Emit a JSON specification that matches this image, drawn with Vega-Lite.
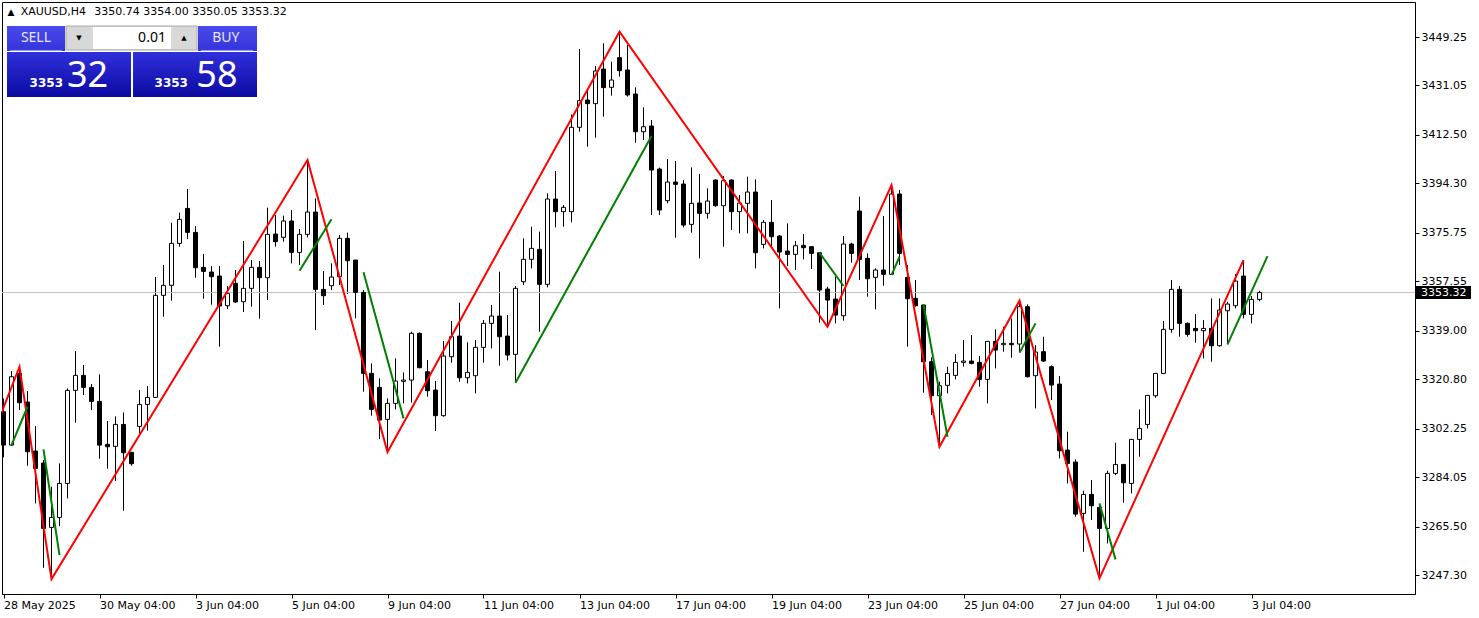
{
"$schema": "https://vega.github.io/schema/vega-lite/v6.json",
"width": 1413, "height": 592,
"autosize": {"type": "none"},
"padding": {"left": 2, "top": 2, "right": 64, "bottom": 24},
"background": "white",
"config": {"view": {"stroke": "black", "strokeWidth": 1}},
"resolve": {"axis": {"x": "independent", "y": "independent"}},
"datasets": {
"candles": [
{"i":0,"o":3308.59,"h":3313.59,"l":3291.44,"c":3296.07},
{"i":1,"o":3296.07,"h":3323.85,"l":3295.82,"c":3321.73},
{"i":2,"o":3322.98,"h":3325.48,"l":3309.21,"c":3311.97},
{"i":3,"o":3312.22,"h":3316.35,"l":3288.31,"c":3293.57},
{"i":4,"o":3293.82,"h":3303.21,"l":3274.17,"c":3287.31},
{"i":5,"o":3289.32,"h":3290.44,"l":3250.02,"c":3264.79},
{"i":6,"o":3265.16,"h":3280.43,"l":3245.77,"c":3268.92},
{"i":7,"o":3268.92,"h":3289.19,"l":3265.66,"c":3281.68},
{"i":8,"o":3281.68,"h":3317.35,"l":3276.05,"c":3316.60},
{"i":9,"o":3316.60,"h":3331.36,"l":3304.46,"c":3322.23},
{"i":10,"o":3322.23,"h":3326.11,"l":3314.84,"c":3317.72},
{"i":11,"o":3317.72,"h":3318.97,"l":3309.21,"c":3312.47},
{"i":12,"o":3312.47,"h":3322.60,"l":3290.94,"c":3296.07},
{"i":13,"o":3296.32,"h":3305.08,"l":3287.19,"c":3295.45},
{"i":14,"o":3295.57,"h":3306.84,"l":3282.56,"c":3303.83},
{"i":15,"o":3303.83,"h":3308.34,"l":3271.42,"c":3293.19},
{"i":16,"o":3293.32,"h":3293.57,"l":3288.31,"c":3289.07},
{"i":17,"o":3303.08,"h":3316.72,"l":3300.45,"c":3311.34},
{"i":18,"o":3311.34,"h":3318.22,"l":3301.45,"c":3313.97},
{"i":19,"o":3313.97,"h":3359.14,"l":3313.84,"c":3352.26},
{"i":20,"o":3352.26,"h":3363.65,"l":3344.25,"c":3356.02},
{"i":21,"o":3356.02,"h":3379.54,"l":3350.26,"c":3371.78},
{"i":22,"o":3371.78,"h":3383.30,"l":3370.53,"c":3380.79},
{"i":23,"o":3384.92,"h":3392.18,"l":3373.41,"c":3375.91},
{"i":24,"o":3375.91,"h":3378.29,"l":3358.89,"c":3362.65},
{"i":25,"o":3362.77,"h":3367.78,"l":3351.01,"c":3361.27},
{"i":26,"o":3361.02,"h":3363.27,"l":3348.76,"c":3359.27},
{"i":27,"o":3359.53,"h":3363.28,"l":3333.00,"c":3348.26},
{"i":28,"o":3348.39,"h":3355.77,"l":3347.14,"c":3353.02},
{"i":29,"o":3356.77,"h":3361.78,"l":3349.52,"c":3349.77},
{"i":30,"o":3349.89,"h":3372.67,"l":3346.01,"c":3354.90},
{"i":31,"o":3354.90,"h":3365.53,"l":3348.01,"c":3362.78},
{"i":32,"o":3362.78,"h":3365.16,"l":3343.51,"c":3358.90},
{"i":33,"o":3358.90,"h":3385.18,"l":3350.52,"c":3375.17},
{"i":34,"o":3375.29,"h":3382.43,"l":3370.54,"c":3372.42},
{"i":35,"o":3374.04,"h":3382.18,"l":3372.42,"c":3380.18},
{"i":36,"o":3380.18,"h":3384.30,"l":3364.28,"c":3368.41},
{"i":37,"o":3368.41,"h":3377.17,"l":3363.66,"c":3375.17},
{"i":38,"o":3375.17,"h":3403.07,"l":3374.04,"c":3383.55},
{"i":39,"o":3383.55,"h":3388.68,"l":3339.25,"c":3354.52},
{"i":40,"o":3354.52,"h":3361.40,"l":3348.64,"c":3352.14},
{"i":41,"o":3355.90,"h":3364.28,"l":3354.27,"c":3359.15},
{"i":42,"o":3359.28,"h":3374.92,"l":3356.15,"c":3373.67},
{"i":43,"o":3373.67,"h":3375.80,"l":3352.77,"c":3365.28},
{"i":44,"o":3365.53,"h":3365.53,"l":3343.63,"c":3353.39},
{"i":45,"o":3353.39,"h":3354.27,"l":3316.10,"c":3322.99},
{"i":46,"o":3322.99,"h":3326.74,"l":3307.09,"c":3309.47},
{"i":47,"o":3317.73,"h":3321.11,"l":3298.33,"c":3305.47},
{"i":48,"o":3305.72,"h":3313.60,"l":3293.45,"c":3311.72},
{"i":49,"o":3311.72,"h":3328.62,"l":3309.47,"c":3320.11},
{"i":50,"o":3319.98,"h":3323.36,"l":3311.72,"c":3320.48},
{"i":51,"o":3320.48,"h":3338.60,"l":3311.97,"c":3338.00},
{"i":52,"o":3338.01,"h":3338.38,"l":3324.87,"c":3325.12},
{"i":53,"o":3323.61,"h":3327.99,"l":3314.23,"c":3316.48},
{"i":54,"o":3316.73,"h":3320.11,"l":3301.34,"c":3307.10},
{"i":55,"o":3307.10,"h":3335.13,"l":3306.72,"c":3329.50},
{"i":56,"o":3329.25,"h":3342.64,"l":3326.99,"c":3336.75},
{"i":57,"o":3337.00,"h":3349.52,"l":3319.86,"c":3321.36},
{"i":58,"o":3321.36,"h":3334.63,"l":3319.23,"c":3323.36},
{"i":59,"o":3322.11,"h":3335.50,"l":3315.48,"c":3332.75},
{"i":60,"o":3332.75,"h":3343.01,"l":3326.99,"c":3341.76},
{"i":61,"o":3341.76,"h":3348.64,"l":3332.37,"c":3344.51},
{"i":62,"o":3344.51,"h":3361.16,"l":3325.87,"c":3336.75},
{"i":63,"o":3337.00,"h":3344.89,"l":3327.87,"c":3329.87},
{"i":64,"o":3330.12,"h":3355.78,"l":3319.48,"c":3354.90},
{"i":65,"o":3357.40,"h":3373.67,"l":3356.15,"c":3365.79},
{"i":66,"o":3365.79,"h":3378.05,"l":3362.41,"c":3369.92},
{"i":67,"o":3369.54,"h":3376.17,"l":3338.63,"c":3356.40},
{"i":68,"o":3356.40,"h":3390.56,"l":3355.27,"c":3388.44},
{"i":69,"o":3388.44,"h":3398.95,"l":3377.80,"c":3383.68},
{"i":70,"o":3383.68,"h":3386.18,"l":3378.05,"c":3385.31},
{"i":71,"o":3383.68,"h":3420.22,"l":3379.68,"c":3415.34},
{"i":72,"o":3415.34,"h":3444.75,"l":3413.72,"c":3425.35},
{"i":73,"o":3425.60,"h":3429.11,"l":3408.08,"c":3424.23},
{"i":74,"o":3424.23,"h":3438.37,"l":3411.46,"c":3436.49},
{"i":75,"o":3437.24,"h":3446.88,"l":3419.35,"c":3430.23},
{"i":76,"o":3430.36,"h":3439.99,"l":3427.23,"c":3433.11},
{"i":77,"o":3441.50,"h":3451.24,"l":3434.36,"c":3436.62},
{"i":78,"o":3436.87,"h":3446.25,"l":3426.86,"c":3427.48},
{"i":79,"o":3427.85,"h":3430.37,"l":3409.57,"c":3413.70},
{"i":80,"o":3413.70,"h":3422.86,"l":3410.58,"c":3415.57},
{"i":81,"o":3415.84,"h":3418.09,"l":3382.43,"c":3399.32},
{"i":82,"o":3399.69,"h":3400.19,"l":3382.43,"c":3384.30},
{"i":83,"o":3387.81,"h":3403.45,"l":3386.80,"c":3394.81},
{"i":84,"o":3394.81,"h":3402.70,"l":3373.92,"c":3393.94},
{"i":85,"o":3394.06,"h":3395.56,"l":3377.79,"c":3378.67},
{"i":86,"o":3378.92,"h":3400.32,"l":3375.79,"c":3386.80},
{"i":87,"o":3386.93,"h":3397.82,"l":3366.16,"c":3383.05},
{"i":88,"o":3383.05,"h":3392.44,"l":3381.05,"c":3387.68},
{"i":89,"o":3395.56,"h":3395.82,"l":3385.55,"c":3385.93},
{"i":90,"o":3385.93,"h":3397.07,"l":3370.54,"c":3395.31},
{"i":91,"o":3395.56,"h":3395.82,"l":3376.79,"c":3383.68},
{"i":92,"o":3383.68,"h":3389.93,"l":3375.54,"c":3386.93},
{"i":93,"o":3386.80,"h":3396.82,"l":3375.54,"c":3391.06},
{"i":94,"o":3391.06,"h":3395.82,"l":3362.40,"c":3368.28},
{"i":95,"o":3371.41,"h":3380.55,"l":3369.91,"c":3379.67},
{"i":96,"o":3379.67,"h":3388.06,"l":3370.79,"c":3374.29},
{"i":97,"o":3374.54,"h":3374.92,"l":3347.39,"c":3368.53},
{"i":98,"o":3368.91,"h":3379.30,"l":3363.28,"c":3367.66},
{"i":99,"o":3367.66,"h":3372.66,"l":3361.78,"c":3370.91},
{"i":100,"o":3371.04,"h":3375.29,"l":3365.78,"c":3370.16},
{"i":101,"o":3370.54,"h":3370.79,"l":3362.15,"c":3368.03},
{"i":102,"o":3368.28,"h":3368.28,"l":3342.00,"c":3354.27},
{"i":103,"o":3354.64,"h":3355.52,"l":3340.49,"c":3350.51},
{"i":104,"o":3350.89,"h":3359.27,"l":3341.76,"c":3344.88},
{"i":105,"o":3344.63,"h":3374.54,"l":3342.76,"c":3371.54},
{"i":106,"o":3371.54,"h":3372.04,"l":3364.53,"c":3368.03},
{"i":107,"o":3383.93,"h":3389.31,"l":3358.02,"c":3365.78},
{"i":108,"o":3366.16,"h":3368.03,"l":3351.77,"c":3358.52},
{"i":109,"o":3359.02,"h":3362.40,"l":3347.01,"c":3361.78},
{"i":110,"o":3361.78,"h":3382.05,"l":3355.90,"c":3360.15},
{"i":111,"o":3360.15,"h":3393.69,"l":3359.90,"c":3390.31},
{"i":112,"o":3390.31,"h":3391.81,"l":3363.66,"c":3368.03},
{"i":113,"o":3359.02,"h":3363.66,"l":3333.00,"c":3351.02},
{"i":114,"o":3351.14,"h":3358.02,"l":3348.01,"c":3348.39},
{"i":115,"o":3348.64,"h":3348.89,"l":3315.73,"c":3327.36},
{"i":116,"o":3327.36,"h":3328.99,"l":3307.34,"c":3314.60},
{"i":117,"o":3314.60,"h":3319.86,"l":3295.45,"c":3318.35},
{"i":118,"o":3318.48,"h":3325.49,"l":3315.48,"c":3322.98},
{"i":119,"o":3322.23,"h":3330.24,"l":3320.73,"c":3327.11},
{"i":120,"o":3327.11,"h":3335.50,"l":3325.49,"c":3327.61},
{"i":121,"o":3327.61,"h":3337.38,"l":3326.36,"c":3326.74},
{"i":122,"o":3327.11,"h":3329.49,"l":3317.98,"c":3320.73},
{"i":123,"o":3320.73,"h":3335.00,"l":3311.72,"c":3335.00},
{"i":124,"o":3335.00,"h":3339.50,"l":3324.86,"c":3331.74},
{"i":125,"o":3333.75,"h":3340.50,"l":3331.12,"c":3334.25},
{"i":126,"o":3334.25,"h":3343.63,"l":3328.87,"c":3333.75},
{"i":127,"o":3334.00,"h":3350.27,"l":3331.12,"c":3348.01},
{"i":128,"o":3348.01,"h":3348.89,"l":3321.48,"c":3321.73},
{"i":129,"o":3322.11,"h":3333.62,"l":3309.85,"c":3330.99},
{"i":130,"o":3331.12,"h":3336.75,"l":3327.36,"c":3327.61},
{"i":131,"o":3325.48,"h":3325.98,"l":3312.97,"c":3318.60},
{"i":132,"o":3318.97,"h":3321.98,"l":3291.07,"c":3293.95},
{"i":133,"o":3294.20,"h":3301.08,"l":3281.68,"c":3289.19},
{"i":134,"o":3289.69,"h":3290.69,"l":3269.17,"c":3270.17},
{"i":135,"o":3270.42,"h":3278.93,"l":3256.03,"c":3277.55},
{"i":136,"o":3277.55,"h":3282.93,"l":3267.92,"c":3273.30},
{"i":137,"o":3272.67,"h":3273.55,"l":3246.03,"c":3264.79},
{"i":138,"o":3264.79,"h":3286.44,"l":3259.16,"c":3285.44},
{"i":139,"o":3285.44,"h":3296.95,"l":3284.81,"c":3288.81},
{"i":140,"o":3288.81,"h":3288.81,"l":3274.42,"c":3281.93},
{"i":141,"o":3281.68,"h":3298.20,"l":3277.93,"c":3298.20},
{"i":142,"o":3298.20,"h":3309.46,"l":3291.69,"c":3302.33},
{"i":143,"o":3303.83,"h":3314.72,"l":3302.33,"c":3314.72},
{"i":144,"o":3314.59,"h":3322.98,"l":3313.84,"c":3322.98},
{"i":145,"o":3322.98,"h":3342.63,"l":3322.73,"c":3339.50},
{"i":146,"o":3339.50,"h":3358.02,"l":3338.25,"c":3354.51},
{"i":147,"o":3354.51,"h":3355.76,"l":3336.74,"c":3341.75},
{"i":148,"o":3341.75,"h":3342.12,"l":3336.74,"c":3337.62},
{"i":149,"o":3339.87,"h":3345.25,"l":3334.49,"c":3339.00},
{"i":150,"o":3339.00,"h":3343.00,"l":3328.61,"c":3339.87},
{"i":151,"o":3339.87,"h":3351.13,"l":3327.36,"c":3333.36},
{"i":152,"o":3333.36,"h":3351.13,"l":3332.99,"c":3346.75},
{"i":153,"o":3346.50,"h":3349.88,"l":3333.87,"c":3349.01},
{"i":154,"o":3348.38,"h":3360.27,"l":3347.38,"c":3357.64},
{"i":155,"o":3359.52,"h":3365.53,"l":3343.63,"c":3345.13},
{"i":156,"o":3345.13,"h":3352.01,"l":3341.75,"c":3350.76},
{"i":157,"o":3350.74,"h":3354.00,"l":3350.05,"c":3353.32}
],
"zigzag": [
{"i":-3,"p":3287.0},{"i":2,"p":3325.48},{"i":6,"p":3245.77},{"i":38,"p":3403.07},{"i":48,"p":3293.45},{"i":77,"p":3451.24},{"i":103,"p":3340.49},{"i":111,"p":3393.69},{"i":117,"p":3295.45},{"i":127,"p":3350.27},{"i":137,"p":3246.03},{"i":155,"p":3365.53}
],
"green": [
{"s":1,"i":1,"p":3296.07},{"s":1,"i":3,"p":3310.46},
{"s":2,"i":5,"p":3294.46},{"s":2,"i":7,"p":3254.78},
{"s":3,"i":37,"p":3361.51},{"s":3,"i":41,"p":3380.81},
{"s":4,"i":45,"p":3360.91},{"s":4,"i":50,"p":3306.10},
{"s":5,"i":64,"p":3319.47},{"s":5,"i":81,"p":3412.08},
{"s":6,"i":102,"p":3368.27},{"s":6,"i":105,"p":3355.77},
{"s":7,"i":111,"p":3359.90},{"s":7,"i":112,"p":3366.77},
{"s":8,"i":115,"p":3348.90},{"s":8,"i":118,"p":3299.19},
{"s":9,"i":127,"p":3330.73},{"s":9,"i":129,"p":3341.76},
{"s":10,"i":137,"p":3274.19},{"s":10,"i":139,"p":3253.16},
{"s":11,"i":153,"p":3333.88},{"s":11,"i":158,"p":3367.03}
]
},
"layer": [
{"data": {"name": "candles"},
 "mark": {"type": "rule", "color": "black", "strokeWidth": 1},
 "encoding": {
  "x": {"field": "i", "type": "quantitative", "scale": {"domain": [-0.1875, 176.4375], "nice": false, "zero": false, "padding": 0},
   "axis": {"values": [0,12,24,36,48,60,72,84,96,108,120,132,144,156],
    "labelExpr": "['28 May 2025','30 May 04:00','3 Jun 04:00','5 Jun 04:00','9 Jun 04:00','11 Jun 04:00','13 Jun 04:00','17 Jun 04:00','19 Jun 04:00','23 Jun 04:00','25 Jun 04:00','27 Jun 04:00','1 Jul 04:00','3 Jul 04:00'][round(datum.value/12)]",
    "title": null, "grid": false, "labelAlign": "left", "labelFont": "DejaVu Sans", "labelFontSize": 11, "labelColor": "black",
    "tickColor": "black", "tickSize": 4, "domainColor": "black", "labelPadding": 1, "labelFlush": false, "labelOverlap": false, "labelBound": false, "labelDx": -1}},
  "y": {"field": "l", "type": "quantitative", "scale": {"domain": [3240.17, 3462.39], "nice": false, "zero": false},
   "axis": {"orient": "right", "values": [3247.30,3265.50,3284.05,3302.25,3320.80,3339.00,3357.55,3375.75,3394.30,3412.50,3431.05,3449.25],
    "format": ".2f", "title": null, "grid": false, "labelFont": "DejaVu Sans", "labelFontSize": 11, "labelColor": "black",
    "tickColor": "black", "tickSize": 4, "domainColor": "black", "labelPadding": 2, "labelOverlap": false, "labelFlush": false, "labelBound": false}},
  "y2": {"field": "h"}
 }},
{"data": {"values": [{}]},
 "mark": {"type": "rule", "color": "#c0c0c0", "strokeWidth": 1},
 "encoding": {"y": {"datum": 3353.32, "type": "quantitative", "scale": {"domain": [3240.17, 3462.39], "nice": false, "zero": false}, "axis": null}}},
{"data": {"name": "candles"},
 "mark": {"type": "bar", "width": 4, "stroke": "black", "strokeWidth": 1},
 "encoding": {
  "x": {"field": "i", "type": "quantitative", "scale": {"domain": [-0.1875, 176.4375], "nice": false, "zero": false, "padding": 0}, "axis": null},
  "y": {"field": "o", "type": "quantitative", "scale": {"domain": [3240.17, 3462.39], "nice": false, "zero": false}, "axis": null},
  "y2": {"field": "c"},
  "fill": {"condition": {"test": "datum.c > datum.o", "value": "white"}, "value": "black"}
 }},
{"data": {"name": "zigzag"},
 "mark": {"type": "line", "color": "#ff0000", "strokeWidth": 2, "clip": true},
 "encoding": {
  "x": {"field": "i", "type": "quantitative", "scale": {"domain": [-0.1875, 176.4375], "nice": false, "zero": false, "padding": 0}, "axis": null},
  "y": {"field": "p", "type": "quantitative", "scale": {"domain": [3240.17, 3462.39], "nice": false, "zero": false}, "axis": null}
 }},
{"data": {"name": "green"},
 "mark": {"type": "line", "color": "#008000", "strokeWidth": 2, "clip": true},
 "encoding": {
  "x": {"field": "i", "type": "quantitative", "scale": {"domain": [-0.1875, 176.4375], "nice": false, "zero": false, "padding": 0}, "axis": null},
  "y": {"field": "p", "type": "quantitative", "scale": {"domain": [3240.17, 3462.39], "nice": false, "zero": false}, "axis": null},
  "detail": {"field": "s", "type": "nominal"}
 }},
{"data": {"values": [{}]},
 "mark": {"type": "rect", "fill": "black"},
 "encoding": {
  "x": {"datum": 176.56, "type": "quantitative", "scale": {"domain": [-0.1875, 176.4375], "nice": false, "zero": false, "padding": 0}, "axis": null},
  "x2": {"datum": 183.44},
  "y": {"datum": 3355.76, "type": "quantitative", "scale": {"domain": [3240.17, 3462.39], "nice": false, "zero": false}, "axis": null},
  "y2": {"datum": 3350.88}
 }},
{"data": {"values": [{}]},
 "mark": {"type": "text", "text": "3353.32", "color": "white", "font": "DejaVu Sans", "fontSize": 11, "align": "left", "baseline": "middle"},
 "encoding": {
  "x": {"datum": 177.19, "type": "quantitative", "scale": {"domain": [-0.1875, 176.4375], "nice": false, "zero": false, "padding": 0}, "axis": null},
  "y": {"datum": 3353.32, "type": "quantitative", "scale": {"domain": [3240.17, 3462.39], "nice": false, "zero": false}, "axis": null}
 }},
{"data": {"values": [{}]},
 "mark": {"type": "text", "text": "▲", "color": "black", "font": "DejaVu Sans", "fontSize": 9, "align": "center", "baseline": "middle"},
 "encoding": {
  "x": {"datum": 0.94, "type": "quantitative", "scale": {"domain": [-0.1875, 176.4375], "nice": false, "zero": false, "padding": 0}, "axis": null},
  "y": {"datum": 3458.64, "type": "quantitative", "scale": {"domain": [3240.17, 3462.39], "nice": false, "zero": false}, "axis": null}
 }},
{"data": {"values": [{}]},
 "mark": {"type": "text", "text": "XAUUSD,H4", "color": "black", "font": "DejaVu Sans", "fontSize": 11, "align": "left", "baseline": "middle"},
 "encoding": {
  "x": {"datum": 2.15, "type": "quantitative", "scale": {"domain": [-0.1875, 176.4375], "nice": false, "zero": false, "padding": 0}, "axis": null},
  "y": {"datum": 3458.45, "type": "quantitative", "scale": {"domain": [3240.17, 3462.39], "nice": false, "zero": false}, "axis": null}
 }},
{"data": {"values": [{}]},
 "mark": {"type": "text", "text": "3350.74 3354.00 3350.05 3353.32", "color": "black", "font": "DejaVu Sans", "fontSize": 11, "align": "left", "baseline": "middle"},
 "encoding": {
  "x": {"datum": 11.35, "type": "quantitative", "scale": {"domain": [-0.1875, 176.4375], "nice": false, "zero": false, "padding": 0}, "axis": null},
  "y": {"datum": 3458.45, "type": "quantitative", "scale": {"domain": [3240.17, 3462.39], "nice": false, "zero": false}, "axis": null}
 }},
{"data": {"values": [{}]},
 "mark": {"type": "rect", "fill": {"gradient": "linear", "x1": 0, "y1": 0, "x2": 0, "y2": 1, "stops": [{"offset": 0, "color": "#4a4aea"}, {"offset": 1, "color": "#3434dc"}]}},
 "encoding": {
  "x": {"datum": 0.44, "type": "quantitative", "scale": {"domain": [-0.1875, 176.4375], "nice": false, "zero": false, "padding": 0}, "axis": null},
  "x2": {"datum": 7.69},
  "y": {"datum": 3453.38, "type": "quantitative", "scale": {"domain": [3240.17, 3462.39], "nice": false, "zero": false}, "axis": null},
  "y2": {"datum": 3444.0}
 }},
{"data": {"values": [{}]},
 "mark": {"type": "rect", "fill": {"gradient": "linear", "x1": 0, "y1": 0, "x2": 0, "y2": 1, "stops": [{"offset": 0, "color": "#4a4aea"}, {"offset": 1, "color": "#3434dc"}]}},
 "encoding": {
  "x": {"datum": 24.31, "type": "quantitative", "scale": {"domain": [-0.1875, 176.4375], "nice": false, "zero": false, "padding": 0}, "axis": null},
  "x2": {"datum": 31.69},
  "y": {"datum": 3453.38, "type": "quantitative", "scale": {"domain": [3240.17, 3462.39], "nice": false, "zero": false}, "axis": null},
  "y2": {"datum": 3444.0}
 }},
{"data": {"values": [{}]},
 "mark": {"type": "rect", "fill": "#d8d8d8", "stroke": "#a8a8a8", "strokeWidth": 1},
 "encoding": {
  "x": {"datum": 7.81, "type": "quantitative", "scale": {"domain": [-0.1875, 176.4375], "nice": false, "zero": false, "padding": 0}, "axis": null},
  "x2": {"datum": 24.19},
  "y": {"datum": 3453.38, "type": "quantitative", "scale": {"domain": [3240.17, 3462.39], "nice": false, "zero": false}, "axis": null},
  "y2": {"datum": 3444.37}
 }},
{"data": {"values": [{}]},
 "mark": {"type": "rect", "fill": "white"},
 "encoding": {
  "x": {"datum": 11.19, "type": "quantitative", "scale": {"domain": [-0.1875, 176.4375], "nice": false, "zero": false, "padding": 0}, "axis": null},
  "x2": {"datum": 20.94},
  "y": {"datum": 3453.0, "type": "quantitative", "scale": {"domain": [3240.17, 3462.39], "nice": false, "zero": false}, "axis": null},
  "y2": {"datum": 3444.75}
 }},
{"data": {"values": [{}]},
 "mark": {"type": "text", "text": "▼", "color": "black", "font": "DejaVu Sans", "fontSize": 7, "align": "center", "baseline": "middle"},
 "encoding": {
  "x": {"datum": 9.44, "type": "quantitative", "scale": {"domain": [-0.1875, 176.4375], "nice": false, "zero": false, "padding": 0}, "axis": null},
  "y": {"datum": 3448.87, "type": "quantitative", "scale": {"domain": [3240.17, 3462.39], "nice": false, "zero": false}, "axis": null}
 }},
{"data": {"values": [{}]},
 "mark": {"type": "text", "text": "▲", "color": "black", "font": "DejaVu Sans", "fontSize": 7, "align": "center", "baseline": "middle"},
 "encoding": {
  "x": {"datum": 22.56, "type": "quantitative", "scale": {"domain": [-0.1875, 176.4375], "nice": false, "zero": false, "padding": 0}, "axis": null},
  "y": {"datum": 3448.87, "type": "quantitative", "scale": {"domain": [3240.17, 3462.39], "nice": false, "zero": false}, "axis": null}
 }},
{"data": {"values": [{}]},
 "mark": {"type": "text", "text": "0.01", "color": "black", "font": "Noto Sans", "fontSize": 14, "align": "right", "baseline": "middle"},
 "encoding": {
  "x": {"datum": 20.3, "type": "quantitative", "scale": {"domain": [-0.1875, 176.4375], "nice": false, "zero": false, "padding": 0}, "axis": null},
  "y": {"datum": 3448.87, "type": "quantitative", "scale": {"domain": [3240.17, 3462.39], "nice": false, "zero": false}, "axis": null}
 }},
{"data": {"values": [{}]},
 "mark": {"type": "text", "text": "SELL", "color": "#e6e6ff", "font": "Noto Sans", "fontSize": 14, "align": "center", "baseline": "middle"},
 "encoding": {
  "x": {"datum": 4.06, "type": "quantitative", "scale": {"domain": [-0.1875, 176.4375], "nice": false, "zero": false, "padding": 0}, "axis": null},
  "y": {"datum": 3448.87, "type": "quantitative", "scale": {"domain": [3240.17, 3462.39], "nice": false, "zero": false}, "axis": null}
 }},
{"data": {"values": [{}]},
 "mark": {"type": "text", "text": "BUY", "color": "#e6e6ff", "font": "Noto Sans", "fontSize": 14, "align": "center", "baseline": "middle"},
 "encoding": {
  "x": {"datum": 27.8, "type": "quantitative", "scale": {"domain": [-0.1875, 176.4375], "nice": false, "zero": false, "padding": 0}, "axis": null},
  "y": {"datum": 3448.87, "type": "quantitative", "scale": {"domain": [3240.17, 3462.39], "nice": false, "zero": false}, "axis": null}
 }},
{"data": {"values": [{}]},
 "mark": {"type": "rule", "color": "#9a9af2", "strokeWidth": 1},
 "encoding": {
  "x": {"datum": 0.85, "type": "quantitative", "scale": {"domain": [-0.1875, 176.4375], "nice": false, "zero": false, "padding": 0}, "axis": null},
  "x2": {"datum": 7.3},
  "y": {"datum": 3444.2, "type": "quantitative", "scale": {"domain": [3240.17, 3462.39], "nice": false, "zero": false}, "axis": null}
 }},
{"data": {"values": [{}]},
 "mark": {"type": "rule", "color": "#9a9af2", "strokeWidth": 1},
 "encoding": {
  "x": {"datum": 24.7, "type": "quantitative", "scale": {"domain": [-0.1875, 176.4375], "nice": false, "zero": false, "padding": 0}, "axis": null},
  "x2": {"datum": 31.2},
  "y": {"datum": 3444.2, "type": "quantitative", "scale": {"domain": [3240.17, 3462.39], "nice": false, "zero": false}, "axis": null}
 }},
{"data": {"values": [{}]},
 "mark": {"type": "rect", "fill": {"gradient": "linear", "x1": 0, "y1": 0, "x2": 0, "y2": 1, "stops": [{"offset": 0, "color": "#3030dc"}, {"offset": 1, "color": "#0a0aa0"}]}},
 "encoding": {
  "x": {"datum": 0.44, "type": "quantitative", "scale": {"domain": [-0.1875, 176.4375], "nice": false, "zero": false, "padding": 0}, "axis": null},
  "x2": {"datum": 15.94},
  "y": {"datum": 3443.62, "type": "quantitative", "scale": {"domain": [3240.17, 3462.39], "nice": false, "zero": false}, "axis": null},
  "y2": {"datum": 3426.72}
 }},
{"data": {"values": [{}]},
 "mark": {"type": "rect", "fill": {"gradient": "linear", "x1": 0, "y1": 0, "x2": 0, "y2": 1, "stops": [{"offset": 0, "color": "#3030dc"}, {"offset": 1, "color": "#0a0aa0"}]}},
 "encoding": {
  "x": {"datum": 16.19, "type": "quantitative", "scale": {"domain": [-0.1875, 176.4375], "nice": false, "zero": false, "padding": 0}, "axis": null},
  "x2": {"datum": 31.69},
  "y": {"datum": 3443.62, "type": "quantitative", "scale": {"domain": [3240.17, 3462.39], "nice": false, "zero": false}, "axis": null},
  "y2": {"datum": 3426.72}
 }},
{"data": {"values": [{}]},
 "mark": {"type": "text", "text": "3353", "color": "white", "font": "DejaVu Sans", "fontWeight": "bold", "fontSize": 12, "align": "right", "baseline": "alphabetic"},
 "encoding": {
  "x": {"datum": 7.44, "type": "quantitative", "scale": {"domain": [-0.1875, 176.4375], "nice": false, "zero": false, "padding": 0}, "axis": null},
  "y": {"datum": 3430.36, "type": "quantitative", "scale": {"domain": [3240.17, 3462.39], "nice": false, "zero": false}, "axis": null}
 }},
{"data": {"values": [{}]},
 "mark": {"type": "text", "text": "32", "color": "white", "font": "Noto Sans", "fontSize": 36, "align": "left", "baseline": "alphabetic"},
 "encoding": {
  "x": {"datum": 7.94, "type": "quantitative", "scale": {"domain": [-0.1875, 176.4375], "nice": false, "zero": false, "padding": 0}, "axis": null},
  "y": {"datum": 3430.36, "type": "quantitative", "scale": {"domain": [3240.17, 3462.39], "nice": false, "zero": false}, "axis": null}
 }},
{"data": {"values": [{}]},
 "mark": {"type": "text", "text": "3353", "color": "white", "font": "DejaVu Sans", "fontWeight": "bold", "fontSize": 12, "align": "right", "baseline": "alphabetic"},
 "encoding": {
  "x": {"datum": 23.06, "type": "quantitative", "scale": {"domain": [-0.1875, 176.4375], "nice": false, "zero": false, "padding": 0}, "axis": null},
  "y": {"datum": 3430.36, "type": "quantitative", "scale": {"domain": [3240.17, 3462.39], "nice": false, "zero": false}, "axis": null}
 }},
{"data": {"values": [{}]},
 "mark": {"type": "text", "text": "58", "color": "white", "font": "Noto Sans", "fontSize": 36, "align": "left", "baseline": "alphabetic"},
 "encoding": {
  "x": {"datum": 24.1, "type": "quantitative", "scale": {"domain": [-0.1875, 176.4375], "nice": false, "zero": false, "padding": 0}, "axis": null},
  "y": {"datum": 3430.36, "type": "quantitative", "scale": {"domain": [3240.17, 3462.39], "nice": false, "zero": false}, "axis": null}
 }}
]
}
